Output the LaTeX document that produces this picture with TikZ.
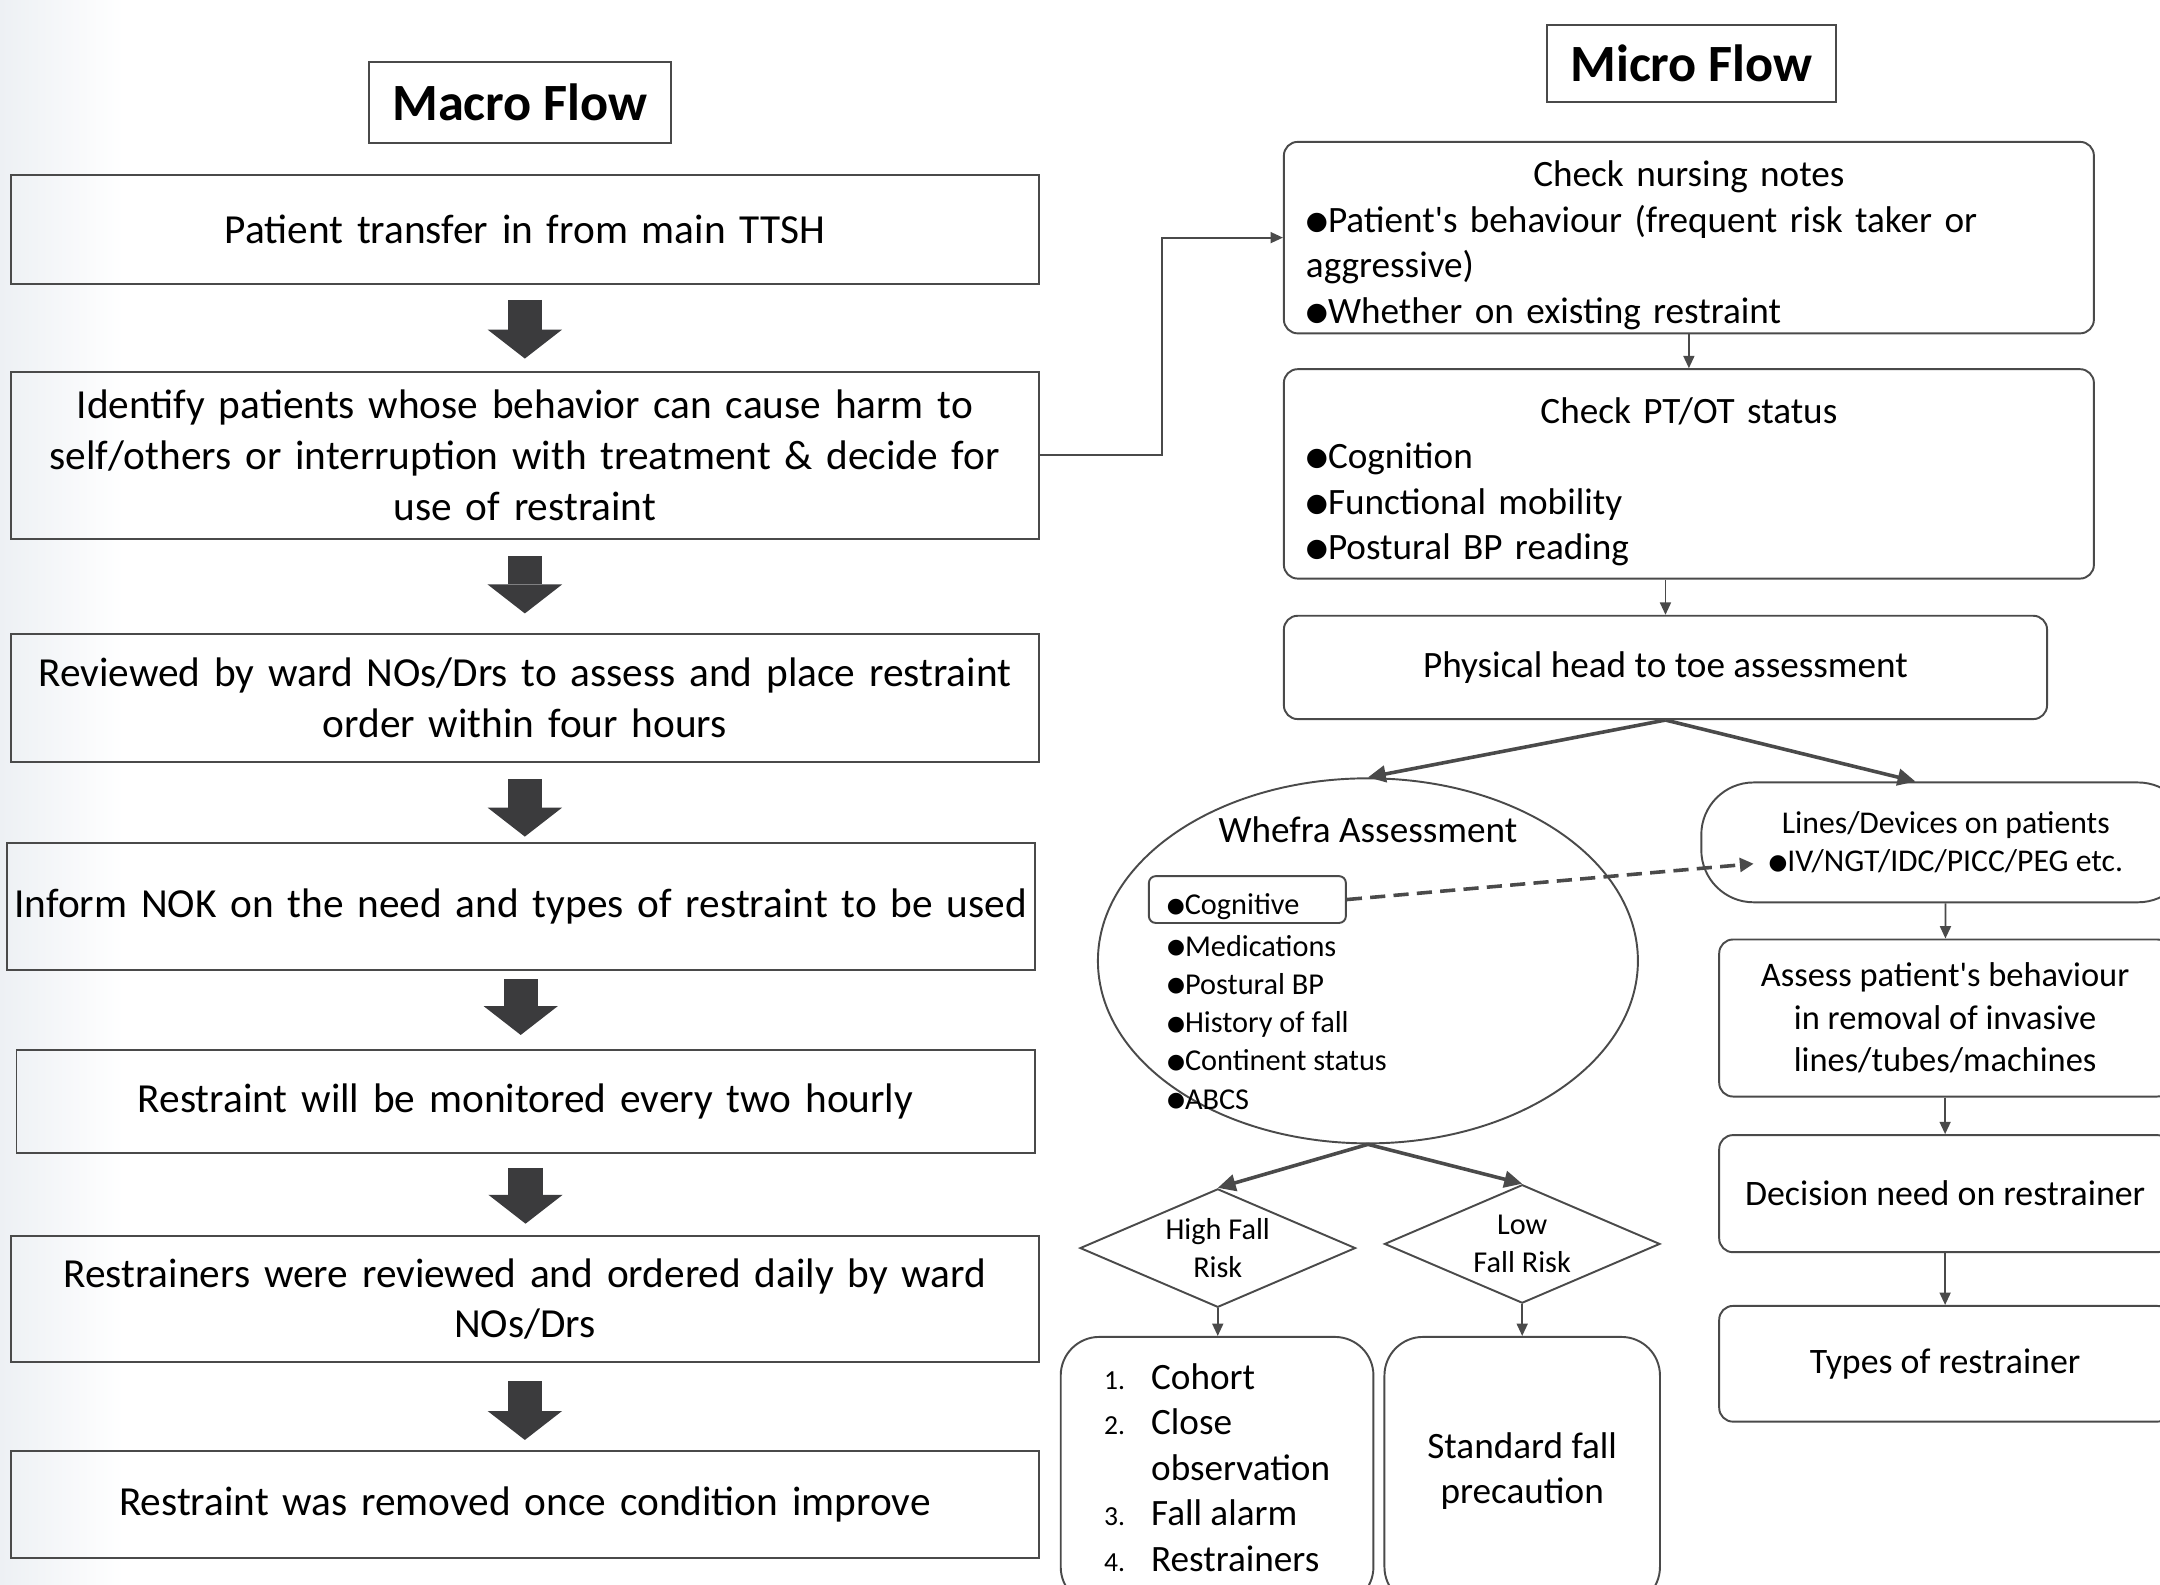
\documentclass[tikz,border=0pt]{standalone}
\usepackage{fontspec}
\setmainfont{Carlito}
\newfontfamily\symfont{DejaVu Sans}
\usetikzlibrary{shapes.geometric,arrows.meta}
\definecolor{lineg}{HTML}{4A4A4A}
\definecolor{arrg}{HTML}{3B3B3D}
\definecolor{tint}{HTML}{EDF0F4}
\newcommand{\bul}{\raisebox{0.08em}{\scalebox{0.68}{\symfont ●}}}
\newcommand{\q}{\textquotesingle}
\setlength{\parindent}{0pt}

\begin{document}
\begin{tikzpicture}[x=1pt,y=-1pt,
  box/.style={draw=lineg,line width=1.4pt,align=center,inner sep=3pt,text width=740pt,font=\fontsize{30}{37}\selectfont},
  rbox/.style={draw=lineg,line width=1.4pt,rounded corners=10pt,inner sep=0pt,font=\fontsize{27}{33}\selectfont},
  ttl/.style={draw=lineg,line width=1.4pt,font=\bfseries\fontsize{38}{44}\selectfont},
  dia/.style={draw=lineg,line width=1.4pt,diamond,aspect=2.3,inner sep=0pt,minimum width=200pt,minimum height=86pt,align=center,font=\fontsize{22}{27}\selectfont},
  blk/.style={draw=arrg,line width=25pt,-{Triangle[width=54pt,length=21pt,line width=0pt]}},
  conn/.style={draw=lineg,line width=1.3pt,-{Triangle[width=8pt,length=9pt]}},
  bconn/.style={draw=lineg,line width=2.6pt,-{Triangle[width=12pt,length=13pt]}},
  dconn/.style={draw=lineg,line width=2.6pt,dash pattern=on 11pt off 6pt,-{Triangle[width=10pt,length=10pt]}}]
  \useasboundingbox (0,0) rectangle (1568,1150);
  \clip (0,0) rectangle (1568,1150);
  \fill[left color=tint,right color=white] (0,0) rectangle (90,1150);

  % macro flow
  \node[ttl,minimum width=219pt,minimum height=59pt] (Mac) at (377.5,74.5) {Macro Flow};
  \node[box,minimum width=746pt,minimum height=79pt] (A) at (381,166.5) {Patient transfer in from main TTSH};
  \node[box,minimum width=746pt,minimum height=121pt] (B) at (381,330.5) {Identify patients whose behavior can cause harm to\\self/others or interruption with treatment \& decide for\\use of restraint};
  \node[box,minimum width=746pt,minimum height=93pt] (C) at (381,506.5) {Reviewed by ward NOs/Drs to assess and place restraint\\order within four hours};
  \node[box,minimum width=746pt,minimum height=92pt] (D) at (378,658) {Inform NOK on the need and types of restraint to be used};
  \node[box,minimum width=739pt,minimum height=75pt,text width=733pt] (E) at (381.5,799.5) {Restraint will be monitored every two hourly};
  \node[box,minimum width=746pt,minimum height=92pt] (F) at (381,943) {Restrainers were reviewed and ordered daily by ward\\NOs/Drs};
  \node[box,minimum width=746pt,minimum height=78pt] (G) at (381,1092) {Restraint was removed once condition improve};
  \begin{scope}
    \draw[blk,shorten <=11pt,shorten >=9pt] (A.south) -- (A.south |- B.north);
    \draw[blk,shorten <=12pt,shorten >=14pt] (B.south) -- (B.south |- C.north);
    \draw[blk,shorten <=12pt,shorten >=4pt] (C.south) -- (C.south |- D.north);
    \draw[blk,shorten <=6pt,shorten >=10pt] (D.south) -- (D.south |- E.north);
    \draw[blk,shorten <=10pt,shorten >=8pt] (E.south) -- (E.south |- F.north);
    \draw[blk,shorten <=13pt,shorten >=7pt] (F.south) -- (F.south |- G.north);
  \end{scope}

  % micro flow
  \node[ttl,minimum width=210pt,minimum height=56pt] (Mic) at (1228,46) {Micro Flow};
  \node[rbox,minimum width=588pt,minimum height=139pt,text width=556pt,align=left] (N) at (1226,172.5) {\rule{0pt}{30pt}\makebox[\hsize]{Check nursing notes}\\\bul Patient\q s behaviour (frequent risk taker or\\aggressive)\\\bul Whether on existing restraint};
  \node[rbox,minimum width=588pt,minimum height=152pt,text width=556pt,align=left] (O) at (1226,344) {\rule{0pt}{30pt}\makebox[\hsize]{Check PT/OT status}\\\bul Cognition\\\bul Functional mobility\\\bul Postural BP reading};
  \node[rbox,minimum width=554pt,minimum height=75pt] (P) at (1209,484.5) {Physical head to toe assessment};
  \node[draw=lineg,line width=1.4pt,ellipse,minimum width=392pt,minimum height=265pt] (W) at (993,697.5) {};
  \node[font=\fontsize{27}{33}\selectfont] (Wt) at (993,602) {Whefra Assessment};
  \node[draw=lineg,line width=1.4pt,rounded corners=5pt,minimum width=143pt,minimum height=34pt,text width=117pt,text height=26pt,text depth=4pt,inner xsep=13pt,inner ysep=0pt,align=left,font=\fontsize{22}{27}\selectfont] (Cg) at (905.5,653) {\bul Cognitive};
  \node[anchor=west,inner sep=0pt,align=left,font=\fontsize{22}{27.75}\selectfont] (Wl) at (847,742) {\bul Medications\\\bul Postural BP\\\bul History of fall\\\bul Continent status\\\bul ABCS};
  \node[rbox,rounded corners=38pt,minimum width=355pt,minimum height=87pt,align=center,font=\fontsize{23}{28}\selectfont] (L) at (1412.5,611.5) {Lines/Devices on patients\\\bul IV/NGT/IDC/PICC/PEG etc.};
  \coordinate (iv) at (1273,627);
  \node[rbox,minimum width=328pt,minimum height=114pt,align=center,font=\fontsize{25}{31}\selectfont] (S) at (1412,739) {Assess patient\q s behaviour\\in removal of invasive\\lines/tubes/machines};
  \node[rbox,minimum width=328pt,minimum height=85pt,font=\fontsize{26}{32}\selectfont] (Dc) at (1412,866.5) {Decision need on restrainer};
  \node[rbox,minimum width=328pt,minimum height=84pt,font=\fontsize{26}{32}\selectfont] (T) at (1412,990) {Types of restrainer};
  \node[dia] (HR) at (884,906) {High Fall\\Risk};
  \node[dia] (LR) at (1105,903) {Low\\Fall Risk};
  \node[rbox,rounded corners=28pt,minimum width=227pt,minimum height=195pt] (K) at (883.5,1068) {\begin{tabular}{@{}l@{\hspace{19pt}}l@{}}
      {\fontsize{20}{20}\selectfont 1.} & Cohort\\
      {\fontsize{20}{20}\selectfont 2.} & Close\\
      & observation\\
      {\fontsize{20}{20}\selectfont 3.} & Fall alarm\\
      {\fontsize{20}{20}\selectfont 4.} & Restrainers
    \end{tabular}};
  \node[rbox,rounded corners=28pt,minimum width=200pt,minimum height=195pt,align=center] (SF) at (1105,1068) {Standard fall\\precaution};

  \draw[conn] (B.east) -- ++(89,0) |- (N.west);
  \draw[conn] (N) -- (O);
  \draw[conn] (O.south -| P.north) -- (P.north);
  \draw[bconn] (P.south) -- (W.north);
  \draw[bconn] (P.south) -- ([xshift=-22pt]L.north);
  \draw[dconn] (Cg.east) -- (iv);
  \draw[bconn] (W.south) -- (HR.north);
  \draw[bconn] (W.south) -- (LR.north);
  \draw[conn] (HR.south) -- (HR.south |- K.north);
  \draw[conn] (LR.south) -- (LR.south |- SF.north);
  \draw[conn] (L) -- (S);
  \draw[conn] (S) -- (Dc);
  \draw[conn] (Dc) -- (T);
\end{tikzpicture}
\end{document}
